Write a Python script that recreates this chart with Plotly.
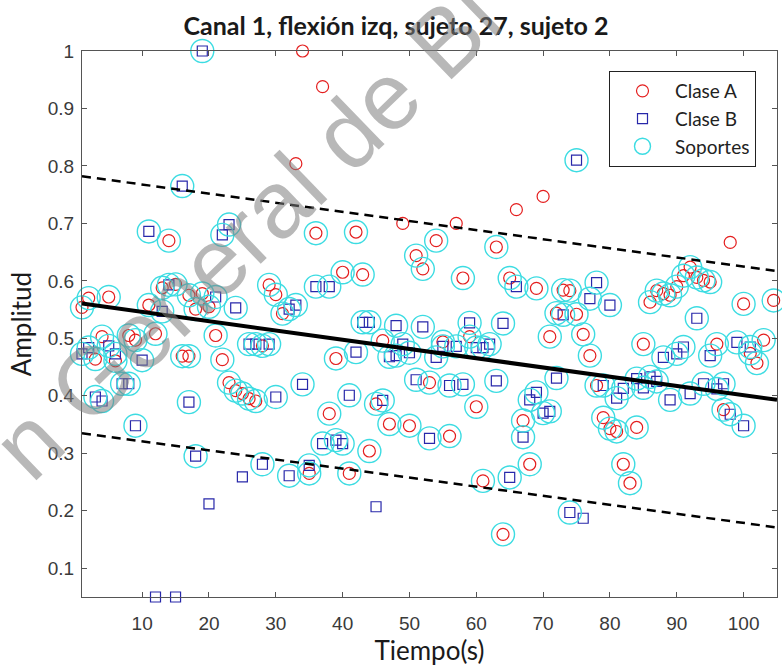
import math
import plotly.graph_objects as go

# ---- Class A (red circles): time (s), amplitude, support-vector flag ----
clase_a_t = [1, 2, 3, 4, 5, 6, 8, 9, 11, 12, 13, 14, 15, 16, 17, 17, 18, 19, 20,
             21, 22, 23, 24, 25, 26, 27, 28, 29, 30, 31, 33, 34, 35, 36, 37, 38,
             39, 40, 41, 42, 43, 44, 45, 46, 47, 49, 50, 51, 52, 53, 54, 55, 56,
             57, 58, 59, 60, 61, 63, 64, 65, 66, 67, 68, 69, 70, 71, 72, 73, 74,
             75, 76, 77, 78, 79, 80, 81, 82, 83, 84, 85, 86, 87, 88, 89, 90, 91,
             92, 93, 94, 95, 96, 97, 98, 100, 101, 102, 103, 104.5]
clase_a_amp = [0.554, 0.570, 0.464, 0.503, 0.572, 0.461, 0.505, 0.497, 0.558, 0.508,
               0.588, 0.670, 0.594, 0.469, 0.469, 0.575, 0.551, 0.578, 0.555, 0.505,
               0.463, 0.423, 0.409, 0.404, 0.395, 0.391, 0.487, 0.593, 0.576, 0.543,
               0.804, 1.000, 0.265, 0.683, 0.938, 0.369, 0.465, 0.615, 0.265, 0.685,
               0.611, 0.304, 0.386, 0.496, 0.351, 0.700, 0.348, 0.644, 0.621, 0.423,
               0.670, 0.494, 0.330, 0.700, 0.605, 0.503, 0.381, 0.252, 0.659, 0.159,
               0.605, 0.724, 0.357, 0.281, 0.587, 0.747, 0.503, 0.544, 0.584, 0.583,
               0.542, 0.507, 0.470, 0.418, 0.362, 0.343, 0.338, 0.281, 0.248, 0.345,
               0.490, 0.563, 0.583, 0.578, 0.575, 0.590, 0.609, 0.624, 0.606, 0.601,
               0.598, 0.490, 0.376, 0.667, 0.560, 0.474, 0.457, 0.497, 0.566]
clase_a_sv = [1, 1, 1, 1, 1, 1, 1, 1, 1, 1, 1, 1, 1, 1, 1, 1, 1, 1, 1, 1,
              1, 1, 1, 1, 1, 1, 1, 1, 1, 1, 0, 0, 1, 1, 0, 1, 1, 1, 1, 1,
              1, 1, 1, 1, 1, 0, 1, 1, 1, 1, 1, 1, 1, 0, 1, 1, 1, 1, 1, 1,
              1, 0, 1, 1, 1, 0, 1, 1, 1, 1, 1, 1, 1, 1, 1, 1, 1, 1, 1, 1,
              1, 1, 1, 1, 1, 1, 1, 1, 1, 1, 1, 1, 1, 0, 1, 1, 1, 1, 1]

# ---- Class B (blue squares) ----
clase_b_t = [1, 2, 3, 4, 5, 6, 7, 8, 9, 10, 11, 12, 13, 14, 15, 16, 17, 18, 19,
             20, 21, 22, 23, 24, 25, 26, 27, 28, 29, 30, 32, 32, 33, 34, 35, 36,
             37, 38, 39, 40, 41, 42, 43, 44, 45, 46, 47, 48, 48, 49, 50, 51, 52,
             53, 54, 55, 56, 57, 58, 59, 60, 61, 62, 63, 64, 65, 66, 67, 68, 69,
             70, 71, 72, 73, 74, 75, 76, 77, 78, 79, 80, 81, 82, 84, 85, 86, 87,
             88, 89, 90, 91, 92, 93, 94, 95, 96, 97, 98, 99, 100, 101]
clase_b_amp = [0.473, 0.484, 0.398, 0.391, 0.487, 0.473, 0.421, 0.421, 0.348, 0.462,
               0.686, 0.050, 0.547, 0.593, 0.050, 0.765, 0.389, 0.295, 1.000, 0.212,
               0.572, 0.680, 0.698, 0.553, 0.259, 0.490, 0.490, 0.281, 0.490, 0.398,
               0.261, 0.551, 0.558, 0.420, 0.279, 0.590, 0.317, 0.590, 0.323, 0.317,
               0.401, 0.476, 0.528, 0.528, 0.207, 0.392, 0.468, 0.522, 0.470, 0.490,
               0.475, 0.428, 0.520, 0.326, 0.467, 0.486, 0.418, 0.486, 0.420, 0.527,
               0.484, 0.484, 0.490, 0.426, 0.526, 0.258, 0.590, 0.328, 0.393, 0.406,
               0.370, 0.373, 0.431, 0.541, 0.197, 0.810, 0.187, 0.569, 0.597, 0.418,
               0.558, 0.396, 0.413, 0.430, 0.414, 0.433, 0.425, 0.467, 0.393, 0.473,
               0.485, 0.404, 0.535, 0.421, 0.470, 0.412, 0.421, 0.368, 0.493, 0.348,
               0.485]
clase_b_sv = [1, 1, 1, 1, 1, 1, 1, 1, 1, 1, 1, 0, 1, 1, 0, 1, 1, 1, 1, 0,
              1, 1, 1, 1, 0, 1, 1, 1, 1, 1, 1, 1, 1, 1, 1, 1, 1, 1, 1, 1,
              1, 1, 1, 1, 0, 1, 1, 1, 1, 1, 1, 1, 1, 1, 1, 1, 1, 1, 1, 1,
              1, 1, 1, 1, 1, 1, 1, 1, 1, 1, 1, 1, 1, 1, 1, 1, 0, 1, 1, 1,
              1, 1, 1, 1, 1, 1, 1, 1, 1, 1, 1, 1, 1, 1, 1, 1, 1, 1, 1, 1,
              1]

# ---- SVM hyperplane and margins at both ends of the time axis ----
linea_t = [1, 105]
frontera = [0.5605, 0.393]
margen_sup = [0.782, 0.617]
margen_inf = [0.335, 0.171]

x_ticks = [10, 20, 30, 40, 50, 60, 70, 80, 90, 100]
y_ticks = [0.1, 0.2, 0.3, 0.4, 0.5, 0.6, 0.7, 0.8, 0.9, 1.0]
y_ticktext = ["0.1", "0.2", "0.3", "0.4", "0.5", "0.6", "0.7", "0.8", "0.9", "1"]

titulo = "Canal 1, flexión izq, sujeto 27, sujeto 2"
marca_agua = "n General de Bi"

# support vectors from both classes
sv_t = [t for t, s in zip(clase_a_t, clase_a_sv) if s] + \
       [t for t, s in zip(clase_b_t, clase_b_sv) if s]
sv_amp = [a for a, s in zip(clase_a_amp, clase_a_sv) if s] + \
         [a for a, s in zip(clase_b_amp, clase_b_sv) if s]

W, H = 782, 669
L, R, T, B = 82, 5, 51, 72

fig = go.Figure()
fig.add_trace(go.Scatter(
    x=clase_a_t, y=clase_a_amp, mode="markers", name="Clase A",
    marker=dict(symbol="circle-open", size=12, color="rgb(228,30,30)",
                line=dict(width=1.2, color="rgb(228,30,30)")),
    cliponaxis=False))
fig.add_trace(go.Scatter(
    x=clase_b_t, y=clase_b_amp, mode="markers", name="Clase B",
    marker=dict(symbol="square-open", size=10, color="rgb(40,40,170)",
                line=dict(width=1.2, color="rgb(40,40,170)")),
    cliponaxis=False))
fig.add_trace(go.Scatter(
    x=sv_t, y=sv_amp, mode="markers", name="Soportes",
    marker=dict(symbol="circle-open", size=23, color="rgb(60,220,226)",
                line=dict(width=1.4, color="rgb(60,220,226)")),
    cliponaxis=False))
fig.add_trace(go.Scatter(
    x=linea_t, y=frontera, mode="lines", showlegend=False,
    line=dict(color="black", width=4)))
for m in (margen_sup, margen_inf):
    fig.add_trace(go.Scatter(
        x=linea_t, y=m, mode="lines", showlegend=False,
        line=dict(color="black", width=2.5, dash="9px,6px")))

pw, ph = W - L - R, H - T - B


def px_to_paper(px, py):
    return (px - L) / pw, 1 - (py - T) / ph


# diagonal watermark: centre of the string placed along a 44 degree baseline
wm_size, wm_angle = 95, 44
g_cx, g_cy = 92, 380           # centre of the "G"
shift = 2.25 * wm_size         # distance from the "G" to the string centre
cx = g_cx + shift * math.cos(math.radians(wm_angle))
cy = g_cy - shift * math.sin(math.radians(wm_angle))
wx, wy = px_to_paper(cx, cy)
fig.add_annotation(
    x=wx, y=wy, xref="paper", yref="paper", xanchor="center", yanchor="middle",
    text=marca_agua, showarrow=False, textangle=-wm_angle,
    font=dict(family="Liberation Sans", size=wm_size, color="rgba(125,125,125,0.55)"))

axis_common = dict(
    showline=True, linecolor="#555", linewidth=1, mirror="ticks",
    ticks="inside", ticklen=5, tickcolor="#555", showgrid=False, zeroline=False,
    tickfont=dict(family="Liberation Sans", size=19, color="#3a3a3a"))

fig.update_layout(
    width=W, height=H,
    margin=dict(l=L, r=R, t=T, b=B),
    paper_bgcolor="white", plot_bgcolor="white",
    title=dict(text="<b>" + titulo + "</b>", x=396 / W, xanchor="center",
               y=1 - 26 / H, yanchor="middle",
               font=dict(family="Lato", size=25, color="#1a1a1a")),
    xaxis=dict(range=[1, 105], tickvals=x_ticks, ticklabelstandoff=9,
               title=dict(text="Tiempo(s)", standoff=4,
                          font=dict(family="Lato", size=26, color="#1a1a1a")),
               **axis_common),
    yaxis=dict(range=[0.05, 1.0], tickvals=y_ticks, ticktext=y_ticktext,
               ticklabelstandoff=3,
               title=dict(text="Amplitud", standoff=8,
                          font=dict(family="Lato", size=26, color="#1a1a1a")),
               **axis_common),
    legend=dict(x=(756 - L) / pw, xanchor="right", y=1 - (71 - T) / ph,
                yanchor="top", bgcolor="white", bordercolor="#222",
                borderwidth=1, font=dict(family="Lato", size=19, color="#222"),
                itemsizing="trace", itemwidth=55),
    showlegend=True,
)

fig.write_html("out.html")
